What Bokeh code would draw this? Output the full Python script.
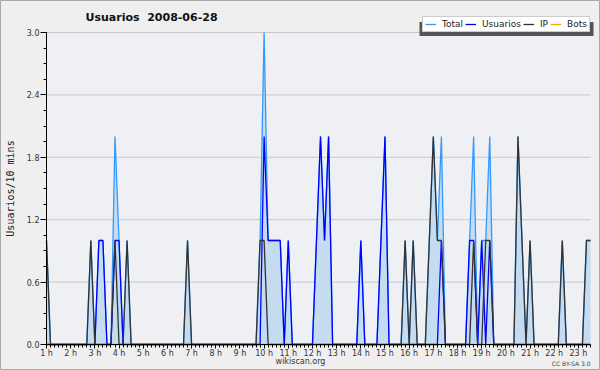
import math
from bokeh.plotting import figure
from bokeh.models import (Range1d, FixedTicker, PrintfTickFormatter, Legend,
                          LegendItem, BoxAnnotation, ColumnDataSource, Label)
from bokeh.embed import file_html
from bokeh.resources import INLINE

# ---- data: one value per 10-minute slot, starting at 1 h ----
total = [
    1, 0, 0, 0, 0, 0, 0, 0, 0, 0, 0, 1,
    0, 1, 1, 0, 0, 2, 1, 0, 1, 0, 0, 0,
    0, 0, 0, 0, 0, 0, 0, 0, 0, 0, 0, 1,
    0, 0, 0, 0, 0, 0, 0, 0, 0, 0, 0, 0,
    0, 0, 0, 0, 0, 1, 3, 1, 1, 1, 1, 0,
    1, 0, 0, 0, 0, 0, 0, 1, 2, 1, 2, 0,
    0, 0, 0, 0, 0, 0, 1, 0, 0, 0, 0, 1,
    2, 0, 0, 0, 0, 1, 0, 1, 0, 0, 0, 1,
    2, 1, 2, 0, 0, 0, 0, 0, 0, 1, 2, 0,
    1, 1, 2, 0, 0, 0, 0, 0, 0, 2, 1, 0,
    1, 0, 0, 0, 0, 0, 0, 0, 1, 0, 0, 0,
    0, 0, 1, 1,
]
usuarios = [
    0, 0, 0, 0, 0, 0, 0, 0, 0, 0, 0, 0,
    0, 1, 1, 0, 0, 1, 1, 0, 0, 0, 0, 0,
    0, 0, 0, 0, 0, 0, 0, 0, 0, 0, 0, 0,
    0, 0, 0, 0, 0, 0, 0, 0, 0, 0, 0, 0,
    0, 0, 0, 0, 0, 0, 2, 1, 1, 1, 1, 0,
    1, 0, 0, 0, 0, 0, 0, 1, 2, 1, 2, 0,
    0, 0, 0, 0, 0, 0, 1, 0, 0, 0, 0, 1,
    2, 0, 0, 0, 0, 0, 0, 0, 0, 0, 0, 0,
    0, 0, 1, 0, 0, 0, 0, 0, 0, 1, 1, 0,
    1, 0, 1, 0, 0, 0, 0, 0, 0, 0, 0, 0,
    0, 0, 0, 0, 0, 0, 0, 0, 0, 0, 0, 0,
    0, 0, 0, 0,
]
ip = [
    1, 0, 0, 0, 0, 0, 0, 0, 0, 0, 0, 1,
    0, 0, 0, 0, 0, 1, 0, 0, 1, 0, 0, 0,
    0, 0, 0, 0, 0, 0, 0, 0, 0, 0, 0, 1,
    0, 0, 0, 0, 0, 0, 0, 0, 0, 0, 0, 0,
    0, 0, 0, 0, 0, 1, 1, 0, 0, 0, 0, 0,
    0, 0, 0, 0, 0, 0, 0, 0, 0, 0, 0, 0,
    0, 0, 0, 0, 0, 0, 0, 0, 0, 0, 0, 0,
    0, 0, 0, 0, 0, 1, 0, 1, 0, 0, 0, 1,
    2, 1, 1, 0, 0, 0, 0, 0, 0, 0, 1, 0,
    0, 1, 1, 0, 0, 0, 0, 0, 0, 2, 1, 0,
    1, 0, 0, 0, 0, 0, 0, 0, 1, 0, 0, 0,
    0, 0, 1, 1,
]
bots = [
    0, 0, 0, 0, 0, 0, 0, 0, 0, 0, 0, 0,
    0, 0, 0, 0, 0, 0, 0, 0, 0, 0, 0, 0,
    0, 0, 0, 0, 0, 0, 0, 0, 0, 0, 0, 0,
    0, 0, 0, 0, 0, 0, 0, 0, 0, 0, 0, 0,
    0, 0, 0, 0, 0, 0, 0, 0, 0, 0, 0, 0,
    0, 0, 0, 0, 0, 0, 0, 0, 0, 0, 0, 0,
    0, 0, 0, 0, 0, 0, 0, 0, 0, 0, 0, 0,
    0, 0, 0, 0, 0, 0, 0, 0, 0, 0, 0, 0,
    0, 0, 0, 0, 0, 0, 0, 0, 0, 0, 0, 0,
    0, 0, 0, 0, 0, 0, 0, 0, 0, 0, 0, 0,
    0, 0, 0, 0, 0, 0, 0, 0, 0, 0, 0, 0,
    0, 0, 0, 0,
]
start_hour = 1.0
slot_hours = [start_hour + i / 6 for i in range(len(total))]

hour_ticks = list(range(1, 24))
hour_labels = ["%d h" % h for h in hour_ticks]
y_ticks = [0.0, 0.6, 1.2, 1.8, 2.4, 3.0]
y_minor = [i * 0.15 for i in range(21)]
y_max = 3.0

title_text = "Usuarios\u00a0 2008-06-28"
y_label_text = "Usuarios/10 mins"
x_label_text = "wikiscan.org"
license_text = "CC BY-SA 3.0"
legend_names = ["Total", "Usuarios", "IP", "Bots"]

# ---- layout (pixels): plot area inside a full-canvas frame ----
W, H = 600, 370
PL, PR, PT, PB = 46, 590, 32, 344          # plot area edges on the canvas
x0, x1 = slot_hours[0], slot_hours[-1]
pxh = (PR - PL) / (x1 - x0)                # pixels per hour
pyv = (PB - PT) / y_max                     # pixels per unit
x_range = Range1d(x0 - PL / pxh, x1 + (W - PR) / pxh)
y_range = Range1d(-(H - PB) / pyv, y_max + PT / pyv)

p = figure(width=W, height=H, output_backend="svg", toolbar_location=None,
           x_range=x_range, y_range=y_range, min_border=0)
p.background_fill_color = "#efefef"
p.border_fill_color = "#efefef"
p.outline_line_color = "#a8a8a8"
p.outline_line_width = 1
p.xgrid.visible = False
p.ygrid.visible = False

# plot-area background
p.add_layout(BoxAnnotation(left=x0, right=x1, bottom=0, top=y_max,
                           fill_color="#eef0f3", fill_alpha=1, line_color=None,
                           level="image"))
# horizontal grid lines at the y ticks
p.segment(x0=[x0] * len(y_ticks), x1=[x1] * len(y_ticks), y0=y_ticks, y1=y_ticks,
          line_color="#c8c8c8", line_width=1, level="underlay")

# y axis
ya = p.yaxis[0]
ya.fixed_location = x0
ya.bounds = (0, y_max)
ya.ticker = FixedTicker(ticks=y_ticks, minor_ticks=y_minor)
ya.formatter = PrintfTickFormatter(format="%.1f")
ya.major_tick_out = 6
ya.major_tick_in = 0
ya.minor_tick_out = 3
ya.minor_tick_in = 0
ya.major_label_standoff = 1
ya.major_label_text_font = "DejaVu Sans"
ya.major_label_text_font_size = "8px"
ya.major_label_text_color = "#333333"
ya.axis_line_color = "black"
ya.major_tick_line_color = "black"
ya.minor_tick_line_color = "black"

# x axis
xa = p.xaxis[0]
xa.fixed_location = 0
xa.bounds = (x0, x1)
xa.ticker = FixedTicker(ticks=hour_ticks, minor_ticks=slot_hours)
xa.major_label_overrides = dict(zip(hour_ticks, hour_labels))
xa.major_tick_out = 4
xa.major_tick_in = 0
xa.minor_tick_out = 3
xa.minor_tick_in = 0
xa.major_label_standoff = 0
xa.major_label_text_font = "DejaVu Sans"
xa.major_label_text_font_size = "8px"
xa.major_label_text_color = "#333333"
xa.axis_line_color = "black"
xa.major_tick_line_color = "black"
xa.minor_tick_line_color = "black"

src = ColumnDataSource(dict(x=slot_hours, total=total, usuarios=usuarios,
                            ip=ip, bots=bots))

p.varea(x="x", y1=0, y2="total", source=src, fill_color="#c5dcf0", fill_alpha=1)
r_bots = p.line("x", "bots", source=src, line_color="#ffa500", line_width=1.3)
r_total = p.line("x", "total", source=src, line_color="#3399ff", line_width=1.3)
r_usu = p.line("x", "usuarios", source=src, line_color="#0000ff", line_width=1.3)
r_ip = p.line("x", "ip", source=src, line_color="#333333", line_width=1.3)

# legend with its drop shadow (screen units, origin at bottom-left of canvas)
p.add_layout(BoxAnnotation(left=419, right=593, bottom=H - 35.5, top=H - 21.5,
                           left_units="screen", right_units="screen",
                           bottom_units="screen", top_units="screen",
                           fill_color="#555555", fill_alpha=1, line_color=None))

legend = Legend(items=[
    LegendItem(label=legend_names[0], renderers=[r_total]),
    LegendItem(label=legend_names[1], renderers=[r_usu]),
    LegendItem(label=legend_names[2], renderers=[r_ip]),
    LegendItem(label=legend_names[3], renderers=[r_bots]),
], orientation="horizontal", location=(422, H - 32))
legend.background_fill_color = "white"
legend.background_fill_alpha = 1
legend.border_line_color = "#999999"
legend.border_line_width = 1
legend.label_text_font = "DejaVu Sans"
legend.label_text_font_size = "9px"
legend.label_text_color = "#222222"
legend.glyph_width = 11
legend.glyph_height = 10
legend.label_height = 10
legend.label_width = 0
legend.label_standoff = 6
legend.spacing = 2
legend.padding = 2
legend.margin = 0
p.add_layout(legend)

# texts
p.add_layout(Label(x=85, y=H - 16.5, x_units="screen", y_units="screen",
                   text=title_text, text_font="DejaVu Sans", text_font_style="bold",
                   text_font_size="11px", text_color="#111111",
                   text_align="left", text_baseline="middle"))
p.add_layout(Label(x=10, y=H - 188, x_units="screen", y_units="screen",
                   text=y_label_text, text_font="DejaVu Sans Mono",
                   text_font_size="10px", text_color="#222222", angle=math.pi / 2,
                   text_align="center", text_baseline="middle"))
p.add_layout(Label(x=300, y=H - 361, x_units="screen", y_units="screen",
                   text=x_label_text, text_font="DejaVu Sans",
                   text_font_size="8px", text_color="#333333",
                   text_align="center", text_baseline="middle"))
p.add_layout(Label(x=590, y=H - 362.5, x_units="screen", y_units="screen",
                   text=license_text, text_font="DejaVu Sans",
                   text_font_size="6px", text_color="#444444",
                   text_align="right", text_baseline="middle"))

open("out.html", "w").write(file_html(p, INLINE))
